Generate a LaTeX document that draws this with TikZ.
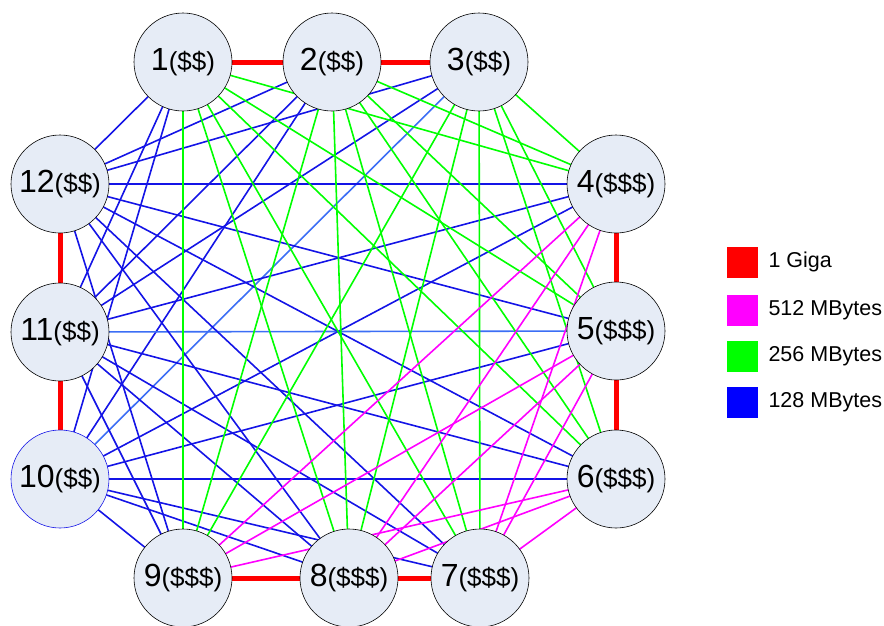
\documentclass[tikz,border=0pt]{standalone}
\usepackage{fontspec}
\setmainfont{Liberation Sans}
\usepackage{tikz}
\usetikzlibrary{positioning}
\definecolor{giga}{RGB}{255,0,0}
\definecolor{mega512}{RGB}{255,0,255}
\definecolor{mega256}{RGB}{0,255,0}
\definecolor{mega128}{RGB}{20,20,230}
\definecolor{megalight}{RGB}{60,110,245}
\definecolor{nodefill}{RGB}{230,236,246}
\newcommand{\site}[2]{{\fontsize{32}{32}\selectfont #1}{\fontsize{26}{26}\selectfont (#2)}}

\begin{document}
\begin{tikzpicture}[x=1pt, y=-1pt,
  site/.style={circle, draw=black, fill=nodefill, minimum size=98pt, inner sep=0pt, line width=0.6pt},
  link/.style={line width=1.6pt},
  gig/.style={giga, line width=5pt},
  sw/.style={minimum size=31pt, inner sep=0pt},
  key/.style={anchor=west, font=\fontsize{21.5}{21.5}\selectfont}]
\useasboundingbox (0,0) rectangle (884,625);
\node at (183,62) (n1) {};
\node at (332,62) (n2) {};
\node at (479,62) (n3) {};
\node at (616,184) (n4) {};
\node at (616,331) (n5) {};
\node at (616,479) (n6) {};
\node at (480,578) (n7) {};
\node at (349,578) (n8) {};
\node at (183,578) (n9) {};
\node at (60,479) (n10) {};
\node at (60,332) (n11) {};
\node at (60,184) (n12) {};
% 128 MBytes
\draw (n10) edge[link, mega128] (n1) edge[link, mega128] (n2) edge[link, megalight] (n3)
      edge[link, mega128] (n4) edge[link, mega128] (n5) edge[link, mega128] (n6)
      edge[link, mega128] (n7) edge[link, mega128] (n8) edge[link, mega128] (n9);
\draw (n11) edge[link, mega128] (n1) edge[link, mega128] (n2) edge[link, mega128] (n3)
      edge[link, mega128] (n4) edge[link, megalight] (n5) edge[link, mega128] (n6)
      edge[link, mega128] (n7) edge[link, mega128] (n8) edge[link, mega128] (n9);
\draw (n12) edge[link, mega128] (n1) edge[link, mega128] (n2) edge[link, mega128] (n3)
      edge[link, mega128] (n4) edge[link, mega128] (n5) edge[link, mega128] (n6)
      edge[link, mega128] (n7) edge[link, mega128] (n8) edge[link, mega128] (n9);
% 256 MBytes
\draw (n1) edge[link, mega256] (n4) edge[link, mega256] (n5) edge[link, mega256] (n6)
      edge[link, mega256] (n7) edge[link, mega256] (n8) edge[link, mega256] (n9);
\draw (n2) edge[link, mega256] (n4) edge[link, mega256] (n5) edge[link, mega256] (n6)
      edge[link, mega256] (n7) edge[link, mega256] (n8) edge[link, mega256] (n9);
\draw (n3) edge[link, mega256] (n4) edge[link, mega256] (n5) edge[link, mega256] (n6)
      edge[link, mega256] (n7) edge[link, mega256] (n8) edge[link, mega256] (n9);
% 512 MBytes
\draw (n4) edge[link, mega512] (n7) edge[link, mega512] (n8) edge[link, mega512] (n9);
\draw (n5) edge[link, mega512] (n7) edge[link, mega512] (n8) edge[link, mega512] (n9);
\draw (n6) edge[link, mega512] (n7) edge[link, mega512] (n8) edge[link, mega512] (n9);
% 1 Giga
\draw (n1) edge[gig] (n2) (n2) edge[gig] (n3);
\draw (n4) edge[gig] (n5) (n5) edge[gig] (n6);
\draw (n7) edge[gig] (n8) (n8) edge[gig] (n9);
\draw (n10) edge[gig] (n11) (n11) edge[gig] (n12);
% sites on top
\node[site] at (n1) {\site{1}{\$\$}};
\node[site] at (n2) {\site{2}{\$\$}};
\node[site] at (n3) {\site{3}{\$\$}};
\node[site] at (n4) {\site{4}{\$\$\$}};
\node[site] at (n5) {\site{5}{\$\$\$}};
\node[site] at (n6) {\site{6}{\$\$\$}};
\node[site] at (n7) {\site{7}{\$\$\$}};
\node[site] at (n8) {\site{8}{\$\$\$}};
\node[site] at (n9) {\site{9}{\$\$\$}};
\node[site, draw=mega128] at (n10) {\site{10}{\$\$}};
\node[site] at (n11) {\site{11}{\$\$}};
\node[site] at (n12) {\site{12}{\$\$}};
% legend
\node[sw, fill=giga] at (742.5,262) (kg) {};
\node[sw, fill=mega512] at (742.5,310) (k512) {};
\node[sw, fill=mega256] at (742.5,356) (k256) {};
\node[sw, fill=blue] at (742.5,402) (k128) {};
\node[key] at (765,262) (tg) {1 Giga};
\node[key] at (765,310) (t512) {512 MBytes};
\node[key] at (765,356) (t256) {256 MBytes};
\node[key] at (765,402) (t128) {128 MBytes};
\end{tikzpicture}
\end{document}
